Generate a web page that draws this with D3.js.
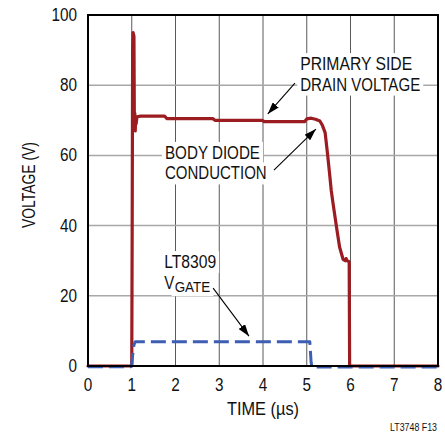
<!DOCTYPE html>
<html><head><meta charset="utf-8">
<script src="https://cdn.jsdelivr.net/npm/d3@7"></script>
<style>
html,body{margin:0;padding:0;background:#fff;}
text{font-family:"Liberation Sans Narrow","Arial Narrow","Liberation Sans",Arial,sans-serif;fill:#111;}
</style></head>
<body><svg id="c" width="445" height="436"></svg>
<script>
// ---- data ----
const xTicks = [0,1,2,3,4,5,6,7,8];
const yTicks = [0,20,40,60,80,100];
const drainTime = [0,1.0,1.01,1.02,1.03,1.05,1.06,1.07,1.08,1.09,1.1,1.12,1.2,1.75,1.8,2.85,2.9,3.98,4.03,4.95,5.0,5.1,5.2,5.3,5.36,5.42,5.47,5.52,5.56,5.6,5.68,5.75,5.83,5.88,5.9,5.92,5.96,5.97,5.98,6.5,7,8];
const drainV    = [0,0,40,90,95,94,68,72,67,71,69,71,71.2,71.2,70.5,70.5,70.0,70.0,69.6,69.6,70.4,70.6,70.3,69.8,68.5,66.5,61,55,50,46.4,39.6,33.9,30.4,30,30.6,30,29.8,29.6,0,0,0,0];
const gateTime = [0,0.98,1.0,1.02,1.05,1.08,5.07,5.08,5.1,5.12,8];
const gateV    = [-0.2,-0.2,0.3,3,6,6.9,6.9,5,1,-0.3,-0.3];
const xLabel = "TIME (µs)";
const yLabel = "VOLTAGE (V)";
const figId = "LT3748 F13";
// annotations in data units
const notes = [
  {lines:["PRIMARY SIDE","DRAIN VOLTAGE"], widths:[112,120], x:4.85, y:84.3, arrow:[[4.73,80.6],[4.11,71.8]]},
  {lines:["BODY DIODE","CONDUCTION"], widths:[95,101.7], x:1.76, y:59.0, arrow:[[4.25,55.8],[5.21,67.5]]},
  {lines:["LT8309",["V","GATE"]], widths:[52,[10,35.5]], x:1.74, y:27.9, arrow:[[2.86,22.2],[3.68,8.5]]}
];

// ---- chart ----
const svg = d3.select("#c");
const x = d3.scaleLinear().domain([0,8]).range([88,438]);
const y = d3.scaleLinear().domain([0,100]).range([366,15]);

function fit(sel, w){ sel.attr("textLength", w).attr("lengthAdjust","spacingAndGlyphs"); return sel; }
function squeeze(sel, f){ sel.each(function(){ const w=this.getComputedTextLength(); d3.select(this).attr("textLength", w*f).attr("lengthAdjust","spacingAndGlyphs"); }); return sel; }

svg.append("rect").attr("width",445).attr("height",436).attr("fill","#fff");

// grid
svg.append("g").selectAll("line").data(xTicks.slice(1,-1)).join("line")
  .attr("x1",d=>x(d)).attr("x2",d=>x(d)).attr("y1",y(0)).attr("y2",y(100))
  .attr("stroke","#5a5a5a").attr("stroke-width",1);
svg.append("g").selectAll("line").data(yTicks.slice(1,-1)).join("line")
  .attr("x1",x(0)).attr("x2",x(8)).attr("y1",d=>y(d)).attr("y2",d=>y(d))
  .attr("stroke","#a8a8a8").attr("stroke-width",1.5);

// annotations (white-backed text)
const annG = svg.append("g");
notes.forEach(n=>{
  const g = annG.append("g");
  const bg = g.append("g");
  n.lines.forEach((ln,i)=>{
    const yy = y(n.y) + i*20.5;
    const parts = [];
    if (Array.isArray(ln)) {
      const t1 = fit(g.append("text").attr("font-size",18).attr("x",x(n.x)).attr("y",yy).text(ln[0]), n.widths[i][0]);
      const t2 = fit(g.append("text").attr("font-size",14.5).attr("x",x(n.x)+n.widths[i][0]+0.5).attr("y",yy+3.4).text(ln[1]), n.widths[i][1]);
      parts.push(t1, t2);
    } else {
      parts.push(fit(g.append("text").attr("font-size",18).attr("x",x(n.x)).attr("y",yy).text(ln), n.widths[i]));
    }
    parts.forEach(p=>{
      const b = p.node().getBBox();
      bg.append("rect").attr("x",b.x-3).attr("y",b.y-1).attr("width",b.width+6).attr("height",b.height+2).attr("fill","#fff");
    });
  });
});

// series
const line = d3.line().x(d=>x(d[0])).y(d=>y(d[1]));
svg.append("path").datum(drainTime.map((t,i)=>[t,drainV[i]]))
  .attr("d",line).attr("fill","none").attr("stroke","#9b1c21").attr("stroke-width",3.2)
  .attr("stroke-linejoin","round").attr("stroke-linecap","round");
svg.append("path").datum(gateTime.map((t,i)=>[t,gateV[i]]))
  .attr("d",line).attr("fill","none").attr("stroke","#3d5eb3").attr("stroke-width",3)
  .attr("stroke-dasharray","15,6").attr("stroke-linejoin","round");

// arrows
const defs = svg.append("defs");
defs.append("marker").attr("id","ah").attr("viewBox","0 0 12 8").attr("refX",12).attr("refY",4)
  .attr("markerWidth",12).attr("markerHeight",8).attr("markerUnits","userSpaceOnUse").attr("orient","auto")
  .append("path").attr("d","M0,0 L12,4 L0,8 Z").attr("fill","#000");
notes.forEach(n=>{
  svg.append("line").attr("x1",x(n.arrow[0][0])).attr("y1",y(n.arrow[0][1]))
    .attr("x2",x(n.arrow[1][0])).attr("y2",y(n.arrow[1][1]))
    .attr("stroke","#000").attr("stroke-width",1.1).attr("marker-end","url(#ah)");
});

// frame
svg.append("rect").attr("x",x(0)).attr("y",y(100)).attr("width",x(8)-x(0)).attr("height",y(0)-y(100))
  .attr("fill","none").attr("stroke","#000").attr("stroke-width",2);

// axes labels
squeeze(svg.append("g").selectAll("text").data(yTicks).join("text")
  .attr("x",x(0)-11).attr("y",d=>y(d)+6).attr("text-anchor","end").attr("font-size",18).text(d=>d), 0.85);
squeeze(svg.append("g").selectAll("text").data(xTicks).join("text")
  .attr("x",d=>x(d)).attr("y",391).attr("text-anchor","middle").attr("font-size",18).text(d=>d), 0.85);
fit(svg.append("text").attr("x",263).attr("y",415).attr("text-anchor","middle").attr("font-size",18).text(xLabel), 72);
fit(svg.append("text").attr("transform","translate(35,185) rotate(-90)").attr("text-anchor","middle").attr("font-size",18).text(yLabel), 86);
svg.append("text").attr("transform","translate(437,431) scale(0.82,1)").attr("text-anchor","end").attr("font-size",10.8).text(figId);
</script></body></html>
